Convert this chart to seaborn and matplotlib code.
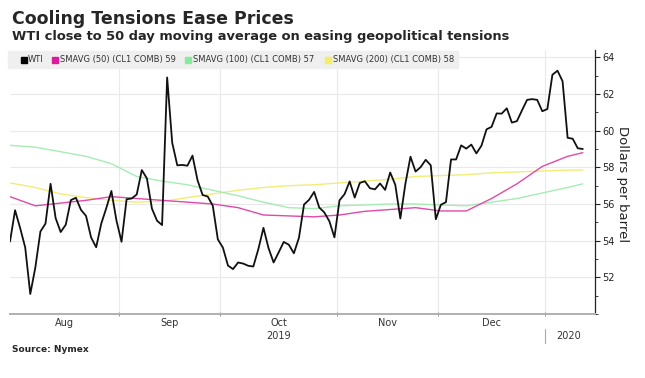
import matplotlib
matplotlib.use("Agg")
import matplotlib.pyplot as plt
import matplotlib.transforms as mtransforms
from matplotlib.patches import Rectangle
import seaborn as sns
import pandas as pd

# -------------------------------
# Data
# -------------------------------
holidays = ["2019-09-02", "2019-11-28", "2019-12-25", "2020-01-01"]
days = [d for d in pd.bdate_range("2019-08-01", "2020-01-13")
        if d.strftime("%Y-%m-%d") not in holidays]

wti = [
    # Aug
    53.95, 55.66, 54.69, 53.63, 51.09, 52.54, 54.50, 54.93, 57.10, 55.23, 54.47,
    54.87, 56.21, 56.34, 55.68, 55.35, 54.17, 53.64, 54.93, 55.78, 56.71, 55.10,
    # Sep
    53.94, 56.26, 56.30, 56.52, 57.85, 57.40, 55.75, 55.09, 54.85, 62.90,
    59.34, 58.11, 58.13, 58.09, 58.64, 57.29, 56.49, 56.41, 55.91, 54.07,
    # Oct
    53.62, 52.64, 52.45, 52.81, 52.75, 52.63, 52.59, 53.55, 54.70, 53.59, 52.81, 53.36,
    53.93, 53.78, 53.31, 54.16, 55.97, 56.23, 56.66, 55.81, 55.54, 55.06, 54.18,
    # Nov
    56.20, 56.54, 57.23, 56.35, 57.15, 57.24, 56.86, 56.80, 57.12, 56.77,
    57.72, 57.05, 55.21, 57.11, 58.58, 57.77, 58.01, 58.41, 58.11, 55.17,
    # Dec
    55.96, 56.10, 58.43, 58.43, 59.20, 59.02, 59.24, 58.76, 59.18, 60.07, 60.21,
    60.94, 60.93, 61.22, 60.44, 60.52, 61.11, 61.68, 61.72, 61.68, 61.06,
    # Jan
    61.18, 63.05, 63.27, 62.70, 59.61, 59.56, 59.04, 59.00,
]

# moving averages, read about once a week (trading-day position)
ma_pos = [0, 5, 10, 15, 20, 25, 30, 35, 40, 45, 50, 55, 60, 65, 70, 75, 80, 85,
          90, 95, 100, 105, 110, 113]
sma50 = [56.4, 55.9, 56.05, 56.2, 56.4, 56.3, 56.2, 56.1, 56.0, 55.8, 55.4, 55.35,
         55.3, 55.4, 55.6, 55.7, 55.8, 55.62, 55.62, 56.3, 57.1, 58.05, 58.6, 58.8]
sma100 = [59.2, 59.1, 58.85, 58.6, 58.2, 57.5, 57.25, 57.05, 56.75, 56.45, 56.1, 55.8,
          55.75, 55.9, 55.95, 56.0, 56.0, 55.95, 55.9, 56.1, 56.3, 56.6, 56.9, 57.1]
sma200 = [57.15, 56.9, 56.55, 56.35, 56.2, 56.1, 56.15, 56.35, 56.55, 56.75, 56.9, 57.0,
          57.05, 57.15, 57.25, 57.35, 57.5, 57.55, 57.6, 57.7, 57.75, 57.8, 57.85, 57.85]

month_names = ["Aug", "Sep", "Oct", "Nov", "Dec"]
legend_labels = ["WTI", "SMAVG (50) (CL1 COMB) 59", "SMAVG (100) (CL1 COMB) 57",
                 "SMAVG (200) (CL1 COMB) 58"]
legend_colors = ["#000000", "#e0189c", "#86ea9e", "#f4ee60"]

df = pd.DataFrame({"pos": range(len(days)), "date": days, "wti": wti})
ma = pd.DataFrame({"pos": ma_pos, "sma50": sma50, "sma100": sma100, "sma200": sma200})

# month boundaries (between last and first trading day)
months = [d.month for d in days]
starts = [i for i in range(1, len(days)) if months[i] != months[i - 1]]
bounds = [s - 0.5 for s in starts]
edges = [0] + bounds
centers = [(edges[i] + edges[i + 1]) / 2 for i in range(len(month_names))]

# -------------------------------
# Figure
# -------------------------------
sns.set_style("white")
plt.rcParams["font.family"] = ["DejaVu Sans"]

fig = plt.figure(figsize=(6.45, 3.78), dpi=100)
ax = fig.add_axes([10 / 645, 1 - 314 / 378, 585 / 645, 264 / 378])

sns.lineplot(data=ma, x="pos", y="sma200", color="#f2ec78", lw=1.0, ax=ax)
sns.lineplot(data=ma, x="pos", y="sma100", color="#a6ecb4", lw=1.0, ax=ax)
sns.lineplot(data=ma, x="pos", y="sma50", color="#e04aa8", lw=1.0, ax=ax)
sns.lineplot(data=df, x="pos", y="wti", color="#111111", lw=1.3, ax=ax)

ax.set_xlim(0, 115.4)
ax.set_ylim(50, 64.4)
ax.set_xlabel("")
ax.set_ylabel("")

# y axis on the right
ax.yaxis.tick_right()
ax.set_yticks([52, 54, 56, 58, 60, 62, 64])
ax.set_yticks([50, 51, 53, 55, 57, 59, 61, 63], minor=True)
ax.tick_params(axis="y", which="major", right=True, length=3.5, width=0.8,
               color="#222222", labelsize=7, labelcolor="#222222", pad=1.5)
ax.tick_params(axis="y", which="minor", right=True, length=2, width=0.6, color="#222222")

# x axis: month boundaries + month names in the middle
ax.set_xticks(bounds)
ax.set_xticklabels([""] * len(bounds))
ax.set_xticks(centers, minor=True)
ax.set_xticklabels(month_names, minor=True)
ax.tick_params(axis="x", which="major", bottom=True, length=3, width=0.8,
               direction="inout", color="#999999")
ax.tick_params(axis="x", which="minor", bottom=False, length=0,
               labelsize=7, labelcolor="#333333", pad=3)

ax.grid(True, which="major", axis="both", color="#e9e9e9", lw=0.8)
for side in ["top", "left"]:
    ax.spines[side].set_visible(False)
ax.spines["right"].set_color("#222222")
ax.spines["right"].set_linewidth(0.9)
ax.spines["bottom"].set_color("#b0b0b0")
ax.spines["bottom"].set_linewidth(1.4)

# year labels under the month names
trans = mtransforms.blended_transform_factory(ax.transData, ax.transAxes)
ax.text(centers[2], -0.083, "2019", transform=trans, ha="center", va="center",
        fontsize=7, color="#333333")
ax.text(110.1, -0.083, "2020", transform=trans, ha="center", va="center",
        fontsize=7, color="#333333")
ax.plot([bounds[-1], bounds[-1]], [-0.057, -0.11], transform=trans, clip_on=False,
        color="#aaaaaa", lw=0.8)

# legend band along the top of the plot
ax.add_patch(Rectangle((-0.004, 0.932), 0.77, 0.064, transform=ax.transAxes,
                       color="#efefef", zorder=3, clip_on=False))
sq_px = [21, 52, 185, 325]
txt_px = [28, 60, 193, 333]
for sx, tx, lab, col in zip(sq_px, txt_px, legend_labels, legend_colors):
    ax.add_patch(Rectangle(((sx - 10) / 585, 0.952), 6 / 585, 6 / 264,
                           transform=ax.transAxes, color=col, zorder=4))
    ax.text((tx - 10) / 585, 0.963, lab, transform=ax.transAxes, fontsize=6,
            color="#333333", va="center", ha="left", zorder=4)

# titles, axis label, source
fig.text(12 / 645, 1 - 19.5 / 378, "Cooling Tensions Ease Prices",
         fontsize=12.5, weight="bold", va="center", ha="left")
fig.text(12 / 645, 1 - 36.5 / 378,
         "WTI close to 50 day moving average on easing geopolitical tensions",
         fontsize=9.4, weight="bold", va="center", ha="left")
fig.text(622 / 645, 1 - 184 / 378, "Dollars per barrel", rotation=270,
         fontsize=9.5, color="#222222", va="center", ha="center")
fig.text(12 / 645, 1 - 349 / 378, "Source: Nymex", fontsize=6.5, weight="bold",
         va="center", ha="left")

fig.savefig("out.png", dpi=100, facecolor="white")
